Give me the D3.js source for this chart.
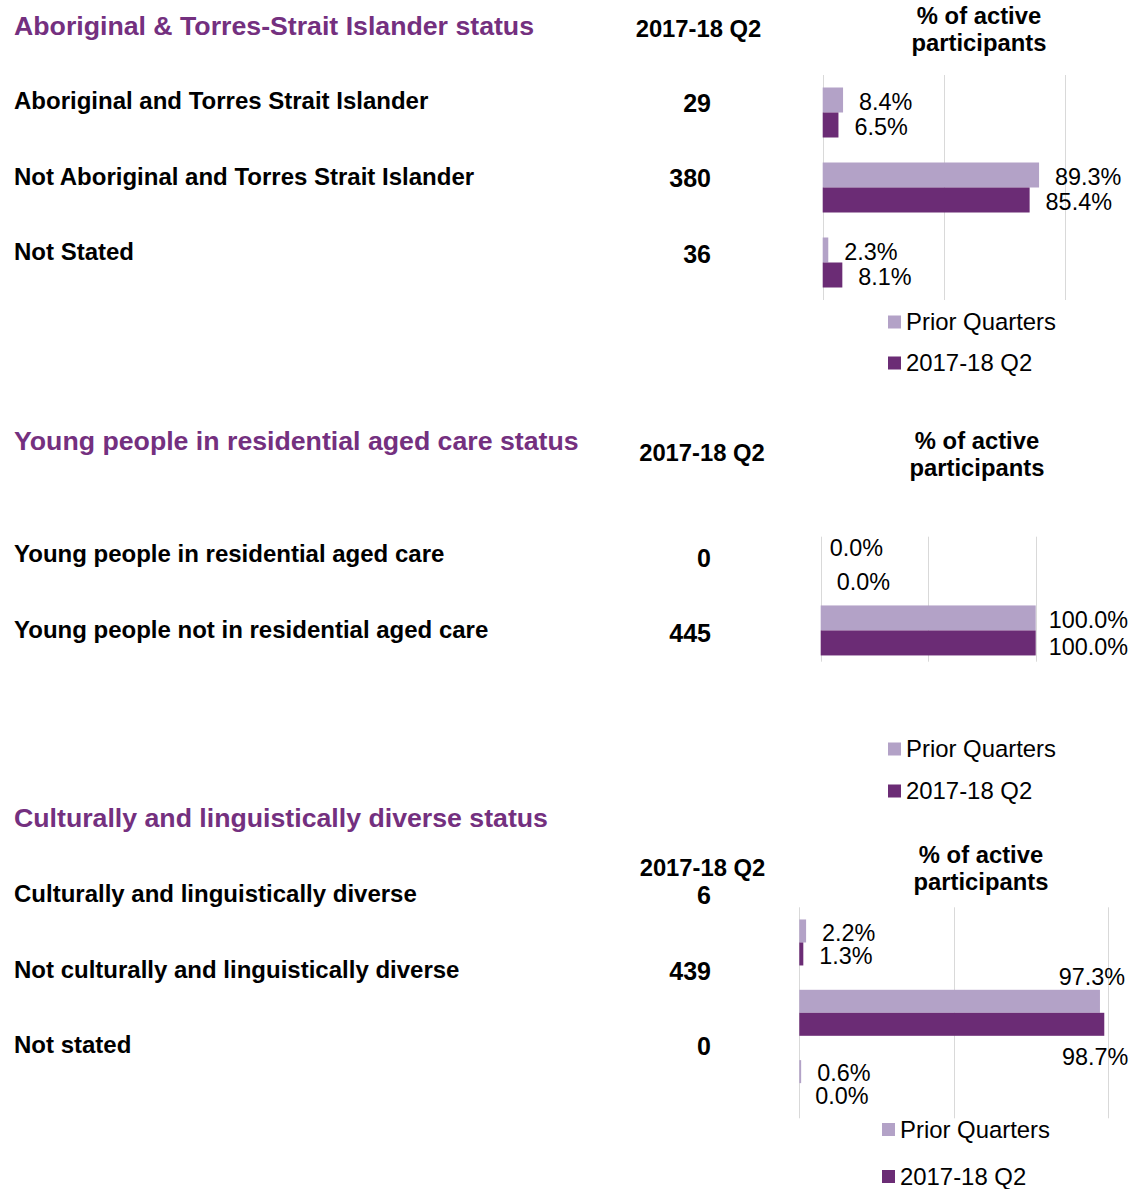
<!DOCTYPE html>
<html>
<head>
<meta charset="utf-8">
<script src="https://cdn.jsdelivr.net/npm/d3@7"></script>
<style>
  html, body { margin: 0; padding: 0; background: #fff; }
  svg { display: block; font-family: "Liberation Sans", Arial, sans-serif; }
</style>
</head>
<body>
<svg id="chart" width="1133" height="1189"></svg>
<script>
// ---------- DATA ----------
const seriesNames = ["Prior Quarters", "2017-18 Q2"];
const countHeader = "2017-18 Q2";
const pctHeader = ["% of active", "participants"];
const axisTicks = [0, 50, 100];

const atsiTitle = "Aboriginal & Torres-Strait Islander status";
const atsiCategories = ["Aboriginal and Torres Strait Islander", "Not Aboriginal and Torres Strait Islander", "Not Stated"];
const atsiCounts = [29, 380, 36];
const atsiPrior = [8.4, 89.3, 2.3];
const atsiCurrent = [6.5, 85.4, 8.1];

const ypracTitle = "Young people in residential aged care status";
const ypracCategories = ["Young people in residential aged care", "Young people not in residential aged care"];
const ypracCounts = [0, 445];
const ypracPrior = [0.0, 100.0];
const ypracCurrent = [0.0, 100.0];

const caldTitle = "Culturally and linguistically diverse status";
const caldCategories = ["Culturally and linguistically diverse", "Not culturally and linguistically diverse", "Not stated"];
const caldCounts = [6, 439, 0];
const caldPrior = [2.2, 97.3, 0.6];
const caldCurrent = [1.3, 98.7, 0.0];

// ---------- LAYOUT ----------
const colors = ["#B3A2C7", "#6B2C75"];
const titleColor = "#74307F";
const gridColor = "#D9D9D9";

const panels = [
  {
    title: atsiTitle, cats: atsiCategories, counts: atsiCounts, series: [atsiPrior, atsiCurrent],
    titleY: 26, countHdr: {x: 698.5, y: 29}, pctHdr: {x: 979, y1: 16, y2: 43},
    rowLabelY0: 101, rowNumY0: 103, rowStep: 75.5,
    chart: {x0: 822.7, x1: 1065, y0: 75, y1: 300, padInner: 1/3},
    legend: {x: 888, y1: 322, y2: 363},
    labelAdj: {}
  },
  {
    title: ypracTitle, cats: ypracCategories, counts: ypracCounts, series: [ypracPrior, ypracCurrent],
    titleY: 441, countHdr: {x: 702, y: 453}, pctHdr: {x: 977, y1: 441, y2: 468},
    rowLabelY0: 554, rowNumY0: 558, rowStep: 75.5,
    chart: {x0: 820.7, x1: 1035.7, y0: 536.7, y1: 661.7, padInner: 0.2},
    legend: {x: 888, y1: 749, y2: 791},
    labelAdj: {"0-0": {dx: 9, dy: -8}, "1-0": {dx: 13}, "1-1": {dx: 13, dy: 4}}
  },
  {
    title: caldTitle, cats: caldCategories, counts: caldCounts, series: [caldPrior, caldCurrent],
    titleY: 818, countHdr: {x: 702.5, y: 868}, pctHdr: {x: 981, y1: 855, y2: 882},
    rowLabelY0: 894, rowNumY0: 895.5, rowStep: 75.5,
    chart: {x0: 799.3, x1: 1108.3, y0: 907.3, y1: 1118.3, padInner: 0.346},
    legend: {x: 882, y1: 1129.5, y2: 1176.5},
    labelAdj: {"1-0": {dx: 25, dy: -24, anchor: "end"}, "1-1": {dx: 24, dy: 33, anchor: "end"}}
  }
];

const svg = d3.select("#chart");

panels.forEach((p, pi) => {
  const g = svg.append("g").attr("class", "panel panel-" + pi);

  // Title
  g.append("text")
    .attr("x", 14).attr("y", p.titleY).attr("dy", "0.35em")
    .attr("fill", titleColor).attr("font-weight", "bold").attr("font-size", "26.7px")
    .text(p.title);

  // Headers
  g.append("text")
    .attr("x", p.countHdr.x).attr("y", p.countHdr.y).attr("dy", "0.35em")
    .attr("text-anchor", "middle").attr("font-weight", "bold").attr("font-size", "23.8px")
    .attr("fill", "#000").text(countHeader);
  [p.pctHdr.y1, p.pctHdr.y2].forEach((yy, i) => {
    g.append("text")
      .attr("x", p.pctHdr.x).attr("y", yy).attr("dy", "0.35em")
      .attr("text-anchor", "middle").attr("font-weight", "bold").attr("font-size", "23.8px")
      .attr("fill", "#000").text(pctHeader[i]);
  });

  // Row labels and counts
  g.selectAll("text.rowlabel").data(p.cats).join("text")
    .attr("class", "rowlabel")
    .attr("x", 14).attr("y", (d, i) => p.rowLabelY0 + i * p.rowStep).attr("dy", "0.35em")
    .attr("font-weight", "bold").attr("font-size", "24px").attr("fill", "#000")
    .text(d => d);
  g.selectAll("text.rowcount").data(p.counts).join("text")
    .attr("class", "rowcount")
    .attr("x", 711).attr("y", (d, i) => p.rowNumY0 + i * p.rowStep).attr("dy", "0.35em")
    .attr("text-anchor", "end")
    .attr("font-weight", "bold").attr("font-size", "25px").attr("fill", "#000")
    .text(d => d3.format(",")(d));

  // Scales
  const x = d3.scaleLinear().domain([0, 100]).range([p.chart.x0, p.chart.x1]);
  const y = d3.scaleBand().domain(p.cats)
    .range([p.chart.y0, p.chart.y1])
    .paddingInner(p.chart.padInner).paddingOuter(p.chart.padInner / 2);
  const ys = d3.scaleBand().domain(seriesNames).range([0, y.bandwidth()]);

  // Gridlines
  g.selectAll("line.grid").data(axisTicks).join("line")
    .attr("class", "grid")
    .attr("x1", d => Math.round(x(d)) + 0.5).attr("x2", d => Math.round(x(d)) + 0.5)
    .attr("y1", p.chart.y0).attr("y2", p.chart.y1)
    .attr("stroke", gridColor).attr("stroke-width", 1);

  // Bars
  const rows = [];
  p.cats.forEach((c, ci) => {
    seriesNames.forEach((s, si) => {
      rows.push({cat: c, ci, s, si, v: p.series[si][ci]});
    });
  });

  g.selectAll("rect.bar").data(rows).join("rect")
    .attr("class", "bar")
    .attr("x", x(0))
    .attr("y", d => y(d.cat) + ys(d.s))
    .attr("width", d => Math.max(0, x(d.v) - x(0)))
    .attr("height", ys.bandwidth())
    .attr("fill", d => colors[d.si]);

  // Value labels
  g.selectAll("text.vlabel").data(rows).join("text")
    .attr("class", "vlabel")
    .each(function(d) {
      const adj = p.labelAdj[d.ci + "-" + d.si] || {};
      const dx = adj.dx !== undefined ? adj.dx : 16;
      const dy = adj.dy !== undefined ? adj.dy : 1.5;
      d3.select(this)
        .attr("x", x(d.v) + dx)
        .attr("y", y(d.cat) + ys(d.s) + ys.bandwidth() / 2 + dy)
        .attr("text-anchor", adj.anchor || "start");
    })
    .attr("dy", "0.35em")
    .attr("font-size", "23.4px").attr("fill", "#000")
    .text(d => d3.format(".1f")(d.v) + "%");

  // Legend
  const leg = g.append("g").attr("class", "legend");
  [p.legend.y1, p.legend.y2].forEach((yy, i) => {
    leg.append("rect")
      .attr("x", p.legend.x).attr("y", yy - 6.5)
      .attr("width", 13).attr("height", 13)
      .attr("fill", colors[i]);
    leg.append("text")
      .attr("x", p.legend.x + 18).attr("y", yy).attr("dy", "0.35em")
      .attr("font-size", "23.9px").attr("fill", "#000")
      .text(seriesNames[i]);
  });
});
</script>
</body>
</html>
